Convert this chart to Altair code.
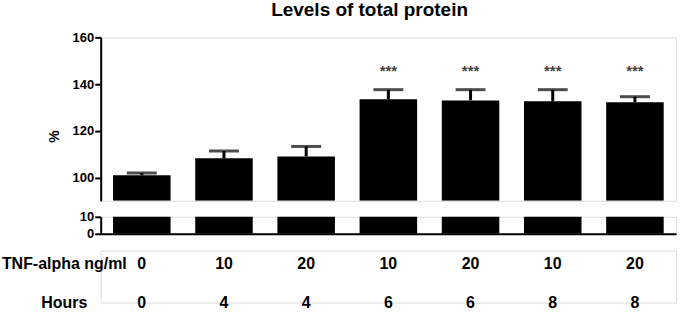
import altair as alt
import pandas as pd

# ---- data ----
groups = ["A", "B", "C", "D", "E", "F", "G"]
tnf_dose = ["0", "10", "20", "10", "20", "10", "20"]
hours = ["0", "4", "4", "6", "6", "8", "8"]
means = [101.0, 108.2, 109.0, 133.5, 133.0, 132.6, 132.2]
errors = [0.9, 3.1, 4.3, 4.1, 4.6, 5.0, 2.4]
stars = ["", "", "", "***", "***", "***", "***"]
row_names = ["TNF-alpha ng/ml", "Hours"]
upper_ticks = [100, 120, 140, 160]
lower_ticks = [0, 10]

df = pd.DataFrame({"group": groups, "mean": means, "err": errors, "stars": stars})
df["top"] = df["mean"] + df["err"]

labels = pd.DataFrame({
    "group": groups * 2,
    "row": [row_names[0]] * len(groups) + [row_names[1]] * len(groups),
    "text": tnf_dose + hours,
})

FONT = "Liberation Sans"
W = 577
band = alt.Scale(paddingInner=0.3, paddingOuter=0.15)
xenc = alt.X("group:N", sort=groups, scale=band, axis=None)

up_scale = alt.Scale(domain=[90, 160], nice=False, zero=False)
up_axis = alt.Axis(values=upper_ticks, grid=False, domainWidth=2, domainColor="black",
                   tickWidth=2, tickColor="black", tickSize=6, labelPadding=1,
                   labelFontSize=13, labelFontWeight="bold", labelColor="black",
                   labelFlush=False, labelOverlap=False,
                   title="%", titleFontSize=14, titleFontWeight="bold", titleColor="black",
                   titleAngle=270, titleX=-46, titleY=99, titleAlign="center",
                   titleBaseline="middle")

bars = alt.Chart(df).mark_bar(color="black", clip=True).encode(
    x=xenc, y=alt.Y("mean:Q", scale=up_scale, axis=up_axis), y2=alt.datum(90))
rule = alt.Chart(df).mark_rule(color="black", strokeWidth=3).encode(
    x=xenc, y="mean:Q", y2="top:Q")
cap = alt.Chart(df).mark_tick(color="black", thickness=3, size=30).encode(
    x=xenc, y="top:Q")
star_txt = alt.Chart(df).mark_text(fontSize=15, fontWeight="bold", color="#444444",
                                   baseline="middle").encode(
    x=xenc, y=alt.datum(145.5), text="stars:N")

upper = alt.layer(bars, rule, cap, star_txt).properties(width=W, height=164)

lo_scale = alt.Scale(domain=[0, 10], nice=False, zero=True)
lo_axis = alt.Axis(values=lower_ticks, grid=False, domainWidth=2, domainColor="black",
                   tickWidth=2, tickColor="black", tickSize=6, labelPadding=1,
                   labelFontSize=13, labelFontWeight="bold", labelColor="black",
                   labelFlush=False, labelOverlap=False, title=None)
lower = alt.Chart(df).mark_bar(color="black", clip=True).encode(
    x=alt.X("group:N", sort=groups, scale=band,
            axis=alt.Axis(labels=False, ticks=False, title=None, domainWidth=2,
                          domainColor="black", grid=False)),
    y=alt.Y("mean:Q", scale=lo_scale, axis=lo_axis),
    y2=alt.datum(0),
).properties(width=W, height=17)

txt = alt.Chart(labels).mark_text(fontSize=16, fontWeight="bold", color="black",
                                  baseline="middle").encode(
    x=xenc,
    y=alt.Y("row:N", sort=row_names,
            scale=alt.Scale(type="point", range=[13, 52], padding=0),
            axis=alt.Axis(domain=False, ticks=False, tickSize=0, labelPadding=37,
                          labelAlign="center", labelFontSize=16, labelFontWeight="bold",
                          labelColor="black", title=None, grid=False)),
    text="text:N",
).properties(width=W, height=52)

chart = alt.vconcat(upper, lower, txt, spacing=8).resolve_scale(
    x="independent", y="independent"
).properties(
    title=alt.TitleParams(text="Levels of total protein", fontSize=19, fontWeight="bold",
                          font=FONT, anchor="middle", offset=11, dx=31, color="black"),
    padding={"left": 0, "top": 0, "right": 4, "bottom": 0},
    background="white",
).configure_view(stroke=None).configure(font=FONT)

chart.save("out.html", embed_options={"renderer": "svg", "actions": False})
